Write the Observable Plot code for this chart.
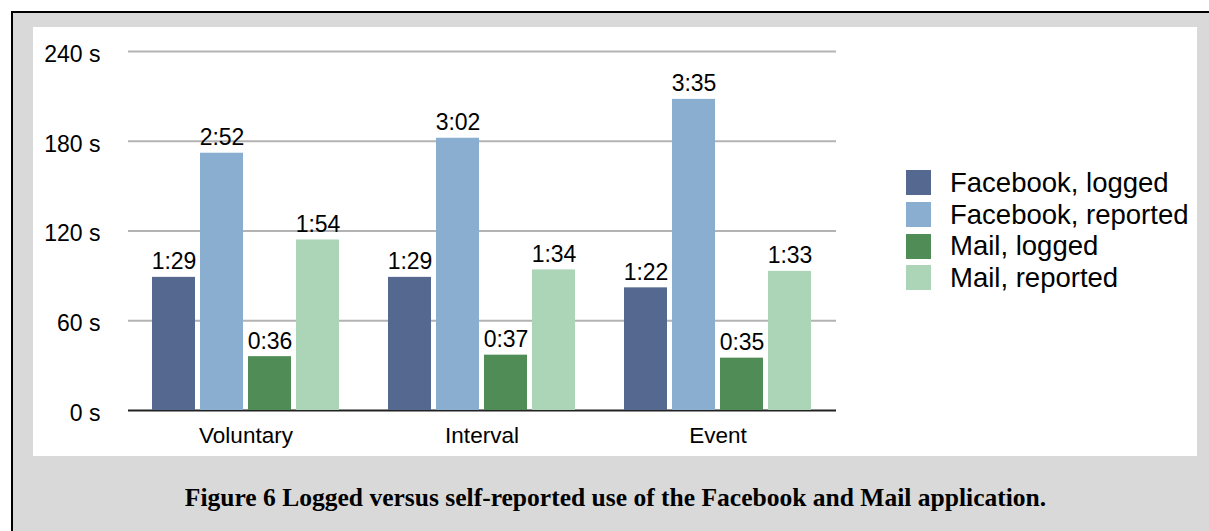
<!DOCTYPE html>
<html>
<head>
<meta charset="utf-8">
<script src="https://cdn.jsdelivr.net/npm/d3@7"></script>
<script src="https://cdn.jsdelivr.net/npm/@observablehq/plot@0.6"></script>
<style>
  html, body { margin: 0; padding: 0; background: #fff; }
  #root { position: relative; width: 1209px; height: 531px; overflow: hidden; background: #fff; }
  #frame { position: absolute; left: 11px; top: 11px; width: 1198px; height: 520px; box-sizing: border-box;
           background: #d9d9d9; border-top: 2px solid #000; border-left: 2px solid #000; }
  #panel { position: absolute; left: 33px; top: 27px; width: 1164px; height: 429px; background: #fff; }
  #panel svg { position: absolute; left: 0; top: 0; }
  #legend { position: absolute; left: 906px; top: 167px; font-family: "Liberation Sans", Arial, sans-serif; font-size: 27.5px; color: #000; }
  .row { display: flex; align-items: center; height: 31.7px; white-space: nowrap; }
  .sw { width: 25px; height: 25px; margin-right: 19px; flex: none; }
  #caption { position: absolute; left: 22px; width: 1187px; text-align: center; font-family: "Liberation Serif", serif;
             font-weight: bold; line-height: 1; color: #000; white-space: nowrap; }
</style>
</head>
<body>
<div id="root">
  <div id="frame"></div>
  <div id="panel"></div>
  <div id="legend"></div>
  <div id="caption"></div>
</div>
<script>
const groups = ["Voluntary", "Interval", "Event"];
const series = ["Facebook, logged", "Facebook, reported", "Mail, logged", "Mail, reported"];
const colors = ["#55688f", "#8aaed0", "#508d56", "#abd5b6"];
// bar heights in seconds, as drawn
const voluntary = [89, 172, 36, 114];
const interval = [89, 182, 37, 94];
const event = [82, 208, 35, 93];
// value labels as printed above the bars
const voluntaryLabels = ["1:29", "2:52", "0:36", "1:54"];
const intervalLabels = ["1:29", "3:02", "0:37", "1:34"];
const eventLabels = ["1:22", "3:35", "0:35", "1:33"];
const yTicks = [0, 60, 120, 180, 240];
const yTickLabels = ["0 s", "60 s", "120 s", "180 s", "240 s"];
const captionText = "Figure 6 Logged versus self-reported use of the Facebook and Mail application.";

const valuesByGroup = [voluntary, interval, event];
const labelsByGroup = [voluntaryLabels, intervalLabels, eventLabels];
const rows = [];
groups.forEach((g, gi) => series.forEach((s, si) => rows.push({
  group: g, series: s, value: valuesByGroup[gi][si], label: labelsByGroup[gi][si]
})));

const common = {
  width: 1164, height: 429,
  marginLeft: 95, marginRight: 361, marginTop: 24, marginBottom: 46,
  style: { background: "transparent", fontFamily: "Liberation Sans, Arial, sans-serif", fontSize: "22px", color: "#000" }
};

const gridPlot = Plot.plot({
  ...common,
  y: { domain: [0, 240] },
  marks: [
    Plot.ruleY(yTicks.filter(d => d > 0), { stroke: "#b3b3b3", strokeWidth: 2 }),
    Plot.ruleY([0], { stroke: "#222", strokeWidth: 2 }),
    Plot.axisY({ ticks: yTicks, tickFormat: d => yTickLabels[yTicks.indexOf(d)], tickSize: 0, tickPadding: 28, dy: 3, label: null, fontSize: 23 })
  ]
});

const barPlot = Plot.plot({
  ...common,
  y: { domain: [0, 240], axis: null },
  fx: { domain: groups, paddingInner: 0.19, paddingOuter: 0.095, label: null, axis: null },
  x: { domain: series, paddingInner: 0.1, paddingOuter: 0, axis: null },
  color: { domain: series, range: colors },
  marks: [
    Plot.barY(rows, { fx: "group", x: "series", y: "value", fill: "series" }),
    Plot.text(rows, { fx: "group", x: "series", y: "value", text: "label", lineAnchor: "bottom", dy: -8, fontSize: 23 }),
    Plot.axisFx({ anchor: "bottom", tickSize: 0, tickPadding: 17, label: null, fontSize: 22.5 })
  ]
});

const panel = document.getElementById("panel");
panel.appendChild(gridPlot);
panel.appendChild(barPlot);

const legend = document.getElementById("legend");
series.forEach((s, i) => {
  const row = document.createElement("div");
  row.className = "row";
  const sw = document.createElement("div");
  sw.className = "sw";
  sw.style.background = colors[i];
  const t = document.createElement("span");
  t.textContent = s;
  row.appendChild(sw);
  row.appendChild(t);
  legend.appendChild(row);
});

const cap = document.getElementById("caption");
cap.textContent = captionText;
const ctx = document.createElement("canvas").getContext("2d");
ctx.font = 'bold 22px "Liberation Serif"';
const w = ctx.measureText(captionText).width;
const fs = 22 * 862 / w;
cap.style.fontSize = fs + "px";
cap.style.top = (506 - 0.8375 * fs) + "px";
</script>
</body>
</html>
